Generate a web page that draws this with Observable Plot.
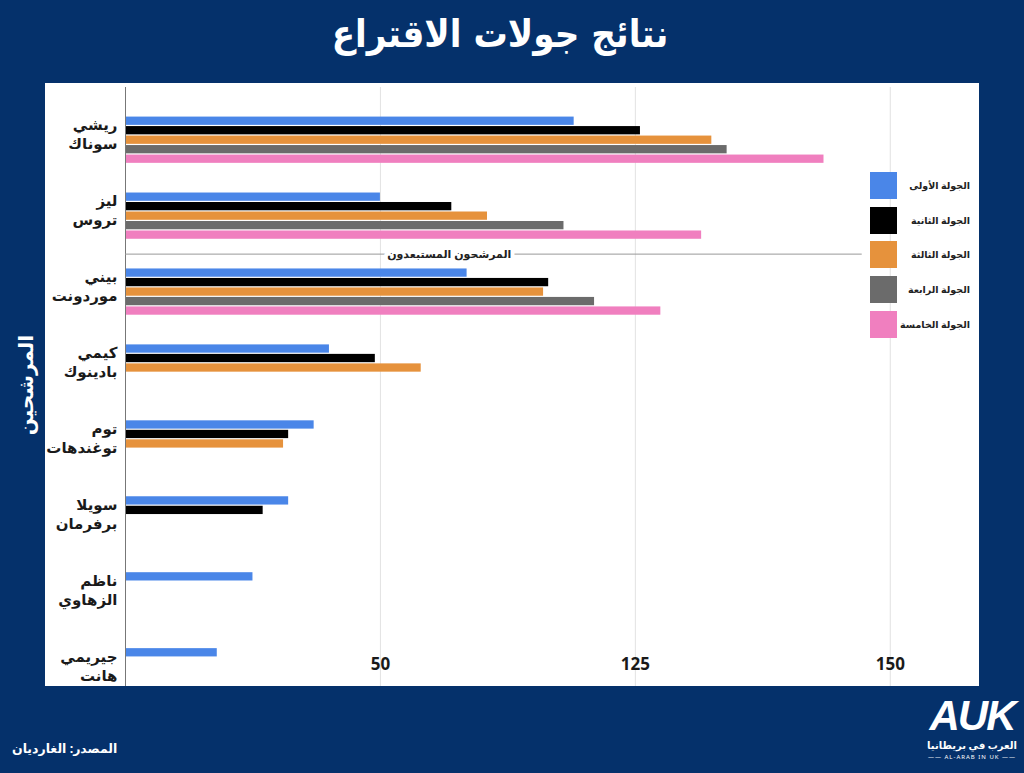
<!DOCTYPE html>
<html lang="ar">
<head>
<meta charset="utf-8">
<script src="https://cdn.jsdelivr.net/npm/d3@7"></script>
<script src="https://cdn.jsdelivr.net/npm/@observablehq/plot@0.6"></script>
<style>
  html, body { margin: 0; padding: 0; }
  body { width: 1024px; height: 773px; background: #05316b; position: relative; overflow: hidden;
         font-family: "Noto Sans", "DejaVu Sans", sans-serif; }
  #title { position: absolute; left: 0; width: 1000px; top: 12px; text-align: center; color: #fff;
           font-size: 38px; font-weight: bold; direction: rtl; font-family: "DejaVu Sans Condensed", "DejaVu Sans", sans-serif; }
  #panel { position: absolute; left: 45px; top: 83px; width: 934px; height: 603px; background: #fff; }
  #panel svg { position: absolute; left: 0; top: 0; }
  #legend { position: absolute; left: 825px; top: 89px; }
  .item { position: absolute; left: 0; width: 110px; height: 27px; }
  .sw { position: absolute; left: 0; top: 0; width: 27px; height: 27px; }
  .lab { position: absolute; right: 10px; width: 70px; top: 0; line-height: 27px; text-align: right;
         font-size: 9.5px; font-weight: bold; color: #222; direction: rtl; white-space: nowrap; }
  #ytitle { position: absolute; left: 25px; top: 385px; transform: translate(-50%, -50%) rotate(-90deg);
            color: #fff; font-size: 20px; font-weight: bold; white-space: nowrap; direction: rtl; }
  #source { position: absolute; left: 12px; top: 740px; color: #fff; font-size: 12.5px; font-weight: bold; direction: rtl; white-space: nowrap; }
  #logo { position: absolute; left: 922px; top: 694px; width: 100px; text-align: center; color: #fff; }
  #logo .mark { font-family: "Liberation Sans", sans-serif; font-weight: bold; font-style: italic; font-size: 42px; line-height: 44px; letter-spacing: -2px; }
  #logo .ar { font-size: 10px; font-weight: bold; direction: rtl; line-height: 14px; }
  #logo .en { font-size: 6px; letter-spacing: 1px; line-height: 10px; }
</style>
</head>
<body>
<div id="title">نتائج جولات الاقتراع</div>
<div id="panel"></div>
<div id="ytitle">المرشحين</div>
<div id="source">المصدر: الغارديان</div>
<div id="logo"><div class="mark">AUK</div><div class="ar">العرب في بريطانيا</div><div class="en">—— AL-ARAB IN UK ——</div></div>
<script>
// ---- data ----
const candidates = ["ريشي سوناك", "ليز تروس", "بيني موردونت", "كيمي بادينوك", "توم توغندهات", "سويلا برفرمان", "ناظم الزهاوي", "جيريمي هانت"];
const candidateLabels = ["ريشي\nسوناك", "ليز\nتروس", "بيني\nموردونت", "كيمي\nبادينوك", "توم\nتوغندهات", "سويلا\nبرفرمان", "ناظم\nالزهاوي", "جيريمي\nهانت"];
const rounds = ["الجولة الأولى", "الجولة الثانية", "الجولة الثالثة", "الجولة الرابعة", "الجولة الخامسة"];
const round1 = [88, 50, 67, 40, 37, 32, 25, 18];
const round2 = [101, 64, 83, 49, 32, 27, null, null];
const round3 = [115, 71, 82, 58, 31, null, null, null];
const round4 = [118, 86, 92, null, null, null, null, null];
const round5 = [137, 113, 105, null, null, null, null, null];
const roundColors = ["#4a86e8", "#000000", "#e6923c", "#6b6b6b", "#f07fbf"];
const tickValues = [50, 100, 150];
const tickLabels = ["50", "125", "150"];
const separatorLabel = "المرشحون المستبعدون";
const separatorAfter = "بيني موردونت"; // line drawn above this candidate
const separatorExtent = [0, 144.5];
const separatorTextAt = 63.5;
const xMax = 167.5;

// ---- build table ----
const series = [round1, round2, round3, round4, round5];
const rows = [];
series.forEach((vals, ri) => vals.forEach((v, ci) => {
  if (v != null) rows.push({cand: candidates[ci], round: rounds[ri], value: v});
}));
const gaps = ["g1", "g2", "g3"];
const key = (c, r) => c + "|" + r;
const yDomain = candidates.flatMap(c => gaps.map(g => key(c, g)).concat(rounds.map(r => key(c, r))));

const font = "'Noto Sans', 'DejaVu Sans', sans-serif";
const chart = Plot.plot({
  width: 934, height: 603,
  marginLeft: 80, marginRight: 0, marginTop: 4, marginBottom: 0,
  style: {background: "transparent", fontFamily: font, color: "#1a1a1a"},
  x: {domain: [0, xMax], axis: null},
  y: {domain: yDomain, range: [4.5, 612], padding: 0, axis: null},
  color: {domain: rounds, range: roundColors},
  marks: [
    Plot.ruleX(tickValues, {stroke: "#e2e2e2", strokeWidth: 1}),
    Plot.barX(rows, {x: "value", y: d => key(d.cand, d.round), fill: "round", insetTop: 0.6, insetBottom: 0.6}),
    Plot.ruleX([0], {stroke: "#777", strokeWidth: 1}),
    Plot.ruleY([separatorAfter], {y: c => key(c, gaps[1]), x1: separatorExtent[0], x2: separatorExtent[1], stroke: "#999", strokeWidth: 1}),
    Plot.text([separatorAfter], {y: c => key(c, gaps[1]), x: separatorTextAt, text: () => separatorLabel,
      fill: "#222", stroke: "#fff", strokeWidth: 8, fontSize: 11, fontWeight: "bold"}),
    Plot.text(candidates, {x: 0, y: c => key(c, rounds[1]), text: (c, i) => candidateLabels[i],
      textAnchor: "end", dx: -8, dy: 3, fontSize: 15, fontWeight: "bold", lineHeight: 1.28, fill: "#1a1a1a"}),
    Plot.text(tickValues, {x: d => d, frameAnchor: "bottom", dy: -17, text: (d, i) => tickLabels[i],
      fontSize: 17, fontWeight: "bold", fill: "#1a1a1a"})
  ]
});
document.getElementById("panel").appendChild(chart);

// ---- legend ----
const legend = document.createElement("div");
legend.id = "legend";
rounds.forEach((r, i) => {
  const it = document.createElement("div");
  it.className = "item";
  it.style.top = (i * 34.7) + "px";
  it.innerHTML = `<div class="sw" style="background:${roundColors[i]}"></div><div class="lab">${r}</div>`;
  legend.appendChild(it);
});
document.getElementById("panel").appendChild(legend);
</script>
</body>
</html>
